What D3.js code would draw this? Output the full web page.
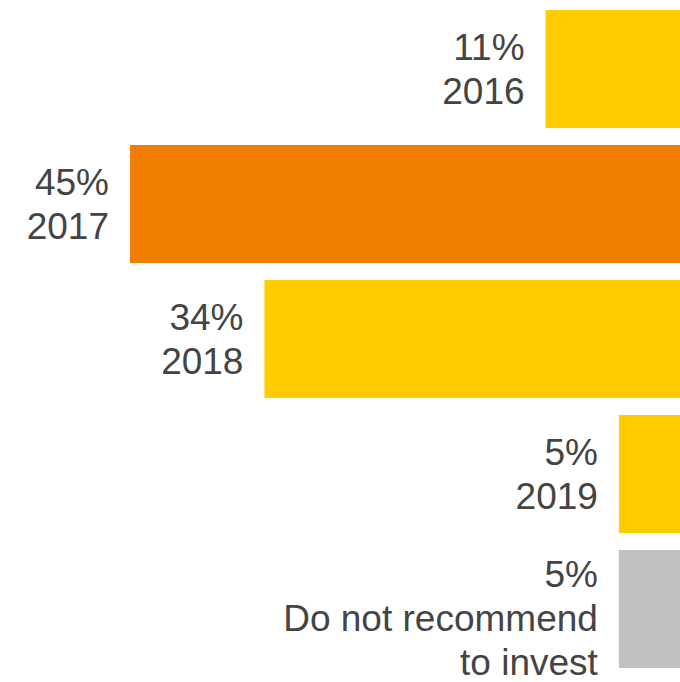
<!DOCTYPE html>
<html>
<head>
<meta charset="utf-8">
<script src="https://cdn.jsdelivr.net/npm/d3@7/dist/d3.min.js"></script>
<style>
  html, body { margin: 0; padding: 0; background: #ffffff; }
  svg { display: block; }
</style>
</head>
<body>
<script>
// Share of respondents by recommended year
const categories = ["2016", "2017", "2018", "2019", "Do not recommend to invest"];
const categoryLines = [["2016"], ["2017"], ["2018"], ["2019"], ["Do not recommend", "to invest"]];
const values = [11, 45, 34, 5, 5];

const width = 680, height = 682;
const fontSize = 37, lineHeight = 44, labelGap = 21;

const color = d3.scaleOrdinal()
  .domain(categories)
  .range(["#FFCC00", "#EF7D00", "#FFCC00", "#FFCC00", "#C0C0C0"]);

const svg = d3.select("body").append("svg")
  .attr("width", width)
  .attr("height", height);

// Bars grow leftwards from the right edge
const x = d3.scaleLinear().domain([0, d3.max(values)]).range([width, 130]);
const y = d3.scaleBand().domain(categories).range([10, 668]).paddingInner(0.126).paddingOuter(0);

const rows = categories.map((c, i) => ({ cat: c, value: values[i], lines: [values[i] + "%"].concat(categoryLines[i]) }));

svg.selectAll("rect.bar")
  .data(rows)
  .join("rect")
  .attr("class", "bar")
  .attr("x", d => x(d.value))
  .attr("y", d => y(d.cat))
  .attr("width", d => x(0) - x(d.value))
  .attr("height", y.bandwidth())
  .attr("fill", d => color(d.cat));

const labels = svg.selectAll("text.label")
  .data(rows)
  .join("text")
  .attr("class", "label")
  .attr("text-anchor", "end")
  .attr("font-family", "'Liberation Sans', Arial, Helvetica, sans-serif")
  .attr("font-size", fontSize)
  .attr("fill", "#444444");

labels.each(function (d) {
  const cy = y(d.cat) + y.bandwidth() / 2;
  const n = d.lines.length;
  // longer labels sit a little lower next to their bar
  const first = cy - (n - 1) * lineHeight / 2 + 13 + (n - 2) * 9;
  d3.select(this).selectAll("tspan")
    .data(d.lines)
    .join("tspan")
    .attr("x", x(d.value) - labelGap)
    .attr("y", (t, i) => first + i * lineHeight)
    .text(t => t);
});
</script>
</body>
</html>
